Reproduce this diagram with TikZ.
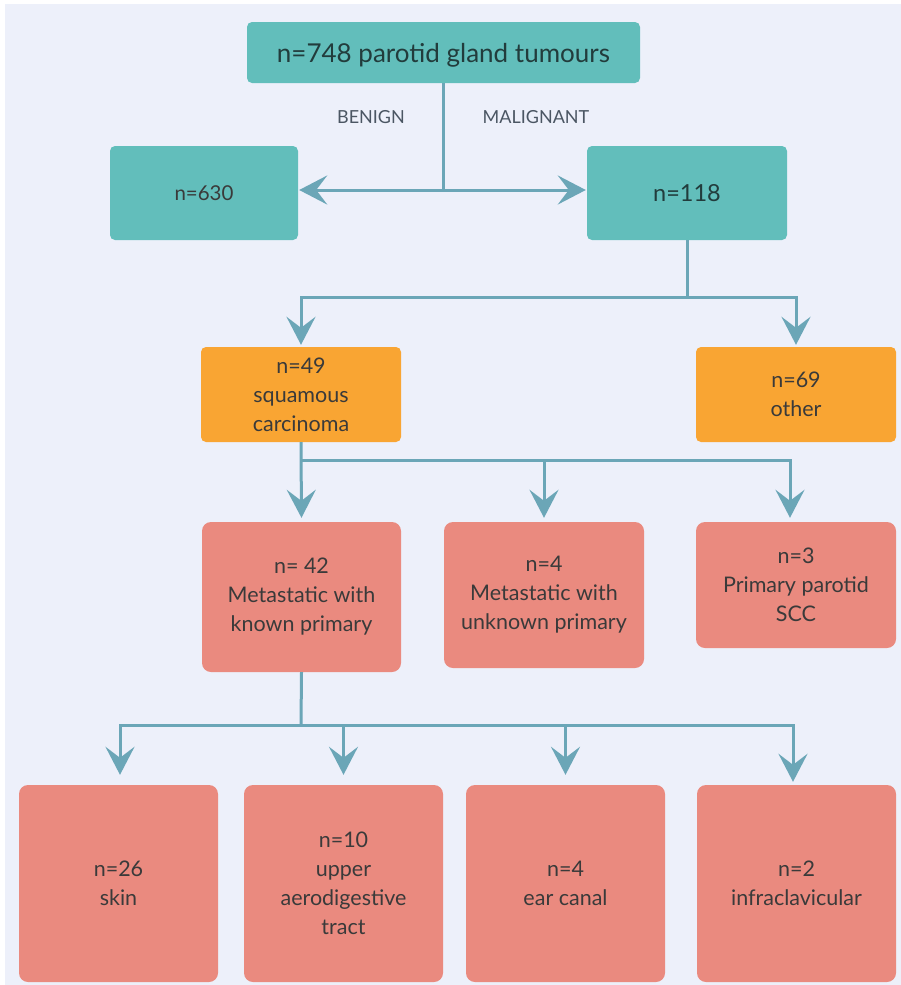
\documentclass[tikz,border=0pt]{standalone}
\usepackage{fontspec}
\setmainfont{Lato}
\usetikzlibrary{arrows.meta,calc}
\definecolor{bgc}{HTML}{EDF0FA}
\definecolor{tealc}{HTML}{62BEBB}
\definecolor{orangec}{HTML}{F9A533}
\definecolor{salmonc}{HTML}{EA8A7F}
\definecolor{linec}{HTML}{6BA6B7}
\definecolor{txtc}{HTML}{3A3A3A}
\definecolor{titlec}{HTML}{223C3C}
\definecolor{lblc}{HTML}{4B5663}
\tikzset{
  box/.style={rectangle, rounded corners=6pt, text=txtc, align=center, inner sep=0pt,
    font=\fontsize{21.5}{29}\selectfont},
  tealbox/.style={box, fill=tealc, rounded corners=5pt},
  orangebox/.style={box, fill=orangec, rounded corners=5pt},
  salmonbox/.style={box, fill=salmonc, rounded corners=9pt},
  conn/.style={draw=linec, line width=3pt},
  arr/.style={conn, -{Stealth[length=28pt, width=29pt, inset=11pt]}},
  lbl/.style={text=lblc, font=\fontsize{18}{20}\selectfont}
}
\begin{document}
\begin{tikzpicture}[x=1pt,y=-1pt]
\useasboundingbox (0,0) rectangle (901,985);
\fill[white] (0,0) rectangle (901,985);
\fill[bgc] (5,4) rectangle (901,985);

% nodes
\node[tealbox, text=titlec, minimum width=393pt, minimum height=61pt, font=\fontsize{26}{30}\selectfont,
      text height=19pt, text depth=-6pt] (top) at (443.5,52.5) {n=748 parotid gland tumours};
\node[tealbox, minimum width=188pt, minimum height=94pt, font=\fontsize{20.5}{28}\selectfont,
      text height=15pt, text depth=-4pt] (b630) at (204,193) {n=630};
\node[tealbox, text=titlec, minimum width=200pt, minimum height=94pt, font=\fontsize{23.5}{28}\selectfont,
      text height=17pt, text depth=-4pt] (b118) at (687,193) {n=118};
\node[lbl] (benign) at (371,117) {BENIGN};
\node[lbl] (malig) at (536,117) {MALIGNANT};

\node[orangebox, minimum width=200pt, minimum height=95pt] (b49) at (301,394.5) {n=49\\squamous\\carcinoma};
\node[orangebox, minimum width=200pt, minimum height=95pt] (b69) at (796,394.5) {n=69\\other};

\node[salmonbox, minimum width=199pt, minimum height=150pt] (b42) at (301.5,597) {n= 42\\Metastatic with\\known primary};
\node[salmonbox, minimum width=200pt, minimum height=146pt] (b4) at (544,595) {n=4\\Metastatic with\\unknown primary};
\node[salmonbox, minimum width=200pt, minimum height=126pt] (b3) at (796,585) {n=3\\Primary parotid\\SCC};

\node[salmonbox, minimum width=199pt, minimum height=197pt] (skin) at (118.5,883.5) {n=26\\skin};
\node[salmonbox, minimum width=199pt, minimum height=197pt] (uad) at (343.5,883.5) {n=10\\upper\\aerodigestive\\tract};
\node[salmonbox, minimum width=199pt, minimum height=197pt] (ear) at (565.5,883.5) {n=4\\ear canal};
\node[salmonbox, minimum width=199pt, minimum height=197pt] (infra) at (796.5,883.5) {n=2\\infraclavicular};

% junctions
\coordinate (j1) at (443.5,190);
\coordinate (j2) at (687,297);
\coordinate (j3) at (301,460);
\coordinate (j4) at (301,725);

% connectors
\draw[conn] (top.south) -- (j1);
\draw[arr, shorten >=1pt] (j1) -- (b630.east |- j1);
\draw[arr, shorten >=1pt] (j1) -- (b118.west |- j1);

\draw[conn] (b118.south) -- (j2);
\draw[arr, shorten >=2pt] (j2) -| (b49.north);
\draw[arr, shorten >=2pt] (j2) -| (b69.north);

\draw[arr, shorten >=4pt] (b49.south) -- (b42.north);
\draw[arr, shorten >=4pt] (j3) -| (b4.north);
\draw[arr, shorten >=4pt] (j3) -| ([xshift=-6pt]b3.north);

\draw[conn] (b42.south) -- (j4);
\draw[arr, shorten >=10pt] (j4) -| ([xshift=1.5pt]skin.north);
\draw[arr, shorten >=10pt] (j4) -| (uad.north);
\draw[arr, shorten >=10pt] (j4) -| (ear.north);
\draw[arr, shorten >=3pt] (j4) -| ([xshift=-3.5pt]infra.north);
\end{tikzpicture}
\end{document}
